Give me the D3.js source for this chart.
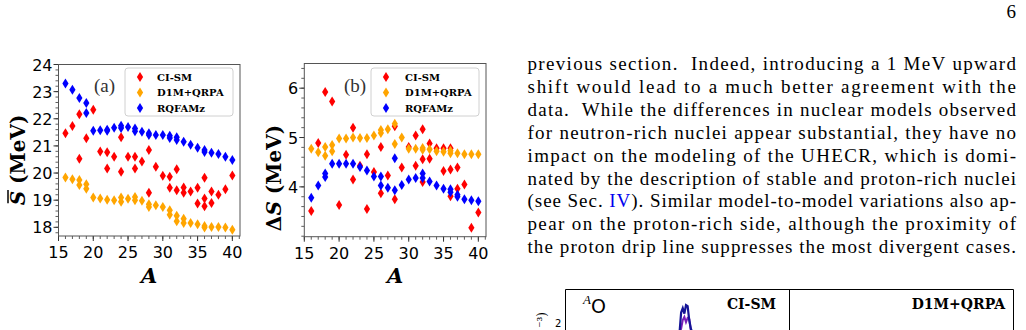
<!DOCTYPE html>
<html>
<head>
<meta charset="utf-8">
<script src="https://cdn.jsdelivr.net/npm/d3@7"></script>
<style>
  body { margin: 0; background: #fff; }
  svg { display: block; }
  .serif { font-family: "Liberation Serif", "Times New Roman", serif; }
</style>
</head>
<body>
<div id="container"></div>
<script>
/*
    Data: [A, value] pairs per model
*/
var modelNames = ["CI-SM", "D1M+QRPA", "RQFAMz"];
var modelColors = ["#ff0000", "#ffa500", "#0000ff"];

var sbarCISM = [[16,21.47],[17,21.73],[18,22.17],[18,20.53],[19,21.28],[20,22.33],[21,20.79],
  [22,20.77],[22,20.17],[23,20.60],[24,21.32],[24,20.05],[25,20.60],[26,20.60],[26,20.17],
  [27,20.43],[28,20.85],[28,19.27],[29,20.23],[30,19.90],[31,19.86],[31,19.46],[32,20.14],
  [32,19.37],[33,19.47],[33,19.27],[34,19.32],[35,19.46],[35,18.88],[36,19.83],[36,19.06],
  [36,18.78],[37,19.32],[37,18.90],[38,19.20],[39,19.40],[40,19.91]];
var sbarD1M = [[16,19.84],[17,19.77],[18,19.74],[18,19.56],[19,19.59],[19,19.42],[20,19.10],
  [21,19.06],[22,19.02],[23,19.00],[24,19.10],[24,18.94],[25,19.05],[26,19.12],[26,19.00],
  [27,18.98],[28,18.85],[28,18.75],[29,18.81],[30,18.75],[31,18.63],[31,18.46],[32,18.43],
  [32,18.22],[33,18.32],[33,18.16],[34,18.16],[35,18.11],[36,18.05],[36,17.99],[37,18.01],
  [38,18.01],[39,17.99],[40,17.91]];
var sbarRQFAM = [[16,23.30],[17,23.07],[18,22.77],[19,22.58],[19,22.21],[20,21.56],[21,21.58],
  [22,21.60],[22,21.56],[23,21.67],[24,21.74],[24,21.66],[25,21.70],[26,21.64],[26,21.54],
  [27,21.52],[28,21.47],[28,21.40],[29,21.40],[30,21.40],[31,21.37],[31,21.29],[32,21.32],
  [32,21.22],[33,21.15],[34,21.04],[35,20.93],[36,20.85],[36,20.78],[37,20.75],[38,20.70],
  [39,20.60],[40,20.48]];

var dsCISM = [[16,3.51],[17,4.89],[18,5.92],[19,5.73],[20,3.63],[21,4.65],[22,5.20],[22,4.15],
  [23,4.43],[24,4.66],[24,3.55],[25,4.30],[26,4.81],[26,3.87],[27,4.23],[28,5.23],[28,3.75],
  [29,4.39],[30,4.81],[31,5.04],[31,4.43],[32,5.17],[32,4.56],[32,4.10],[33,4.88],[33,4.57],
  [34,4.78],[35,4.78],[35,4.32],[36,4.78],[36,4.35],[36,3.81],[37,4.39],[37,3.96],[38,4.05],
  [39,3.17],[40,3.48]];
var dsD1M = [[16,4.77],[17,4.70],[18,4.81],[18,4.63],[19,4.85],[19,4.72],[20,4.98],[21,4.98],
  [22,5.00],[23,4.99],[24,4.99],[25,5.04],[26,5.15],[26,5.09],[27,5.17],[28,5.28],[28,4.87],
  [29,5.00],[30,4.77],[31,4.77],[32,4.79],[32,4.75],[33,4.76],[34,4.72],[35,4.71],[36,4.73],
  [36,4.68],[37,4.68],[38,4.66],[39,4.66],[40,4.66]];
var dsRQFAM = [[16,3.78],[17,4.03],[18,4.20],[18,4.27],[19,4.47],[20,4.47],[21,4.47],[22,4.47],
  [23,4.40],[24,4.33],[25,4.21],[26,4.21],[26,4.03],[27,3.98],[28,4.58],[28,3.93],[29,4.04],
  [30,4.15],[31,4.18],[32,4.27],[32,4.18],[33,4.11],[34,4.03],[35,3.96],[36,3.95],[36,3.89],
  [37,3.84],[37,3.80],[38,3.75],[39,3.73],[40,3.71]];

var xTicks = [15, 20, 25, 30, 35, 40];
var sbarTicks = [18, 19, 20, 21, 22, 23, 24];
var dsTicks = [4, 5, 6];

/*
    Text column on the right of the page
*/
var bodyLines = [
  "previous section.  Indeed, introducing a 1 MeV upward",
  "shift would lead to a much better agreement with the",
  "data.  While the differences in nuclear models observed",
  "for neutron-rich nuclei appear substantial, they have no",
  "impact on the modeling of the UHECR, which is domi-",
  "nated by the description of stable and proton-rich nuclei",
  ["(see Sec. ", "IV", "). Similar model-to-model variations also ap-"],
  "pear on the proton-rich side, although the proximity of",
  "the proton drip line suppresses the most divergent cases."
];

/*
    Top of the next figure, cut by the page edge
*/
var fragX = [0, 1, 2, 3, 4, 5, 6, 7, 8];
var fragBlue = [0, 19, 23, 18, 26, 25, 12, 4, 0];
var fragPurple = [0, 4, 12, 15, 10, 14, 13, 2, 0];

var W = 1026, H = 330;
var svg = d3.select("#container").append("svg")
    .attr("width", W)
    .attr("height", H);

function diamond(w, h) {
    return "M0," + (-h) + "L" + w + ",0L0," + h + "L" + (-w) + ",0Z";
}

function drawPanel(cfg) {
    var x = d3.scaleLinear().domain([15, 41.1]).range(cfg.xRange);
    var y = d3.scaleLinear().domain(cfg.yDomain).range(cfg.yRange);
    var g = svg.append("g");

    /* minor + major ticks, outward, left and bottom only */
    var xMinor = d3.range(15, 42, 1);
    g.selectAll(".xminor").data(xMinor).enter().append("line")
        .attr("x1", d => x(d)).attr("x2", d => x(d))
        .attr("y1", cfg.yRange[0]).attr("y2", cfg.yRange[0] + 3)
        .attr("stroke", "#333").attr("stroke-width", 0.8);
    g.selectAll(".xmajor").data(xTicks).enter().append("line")
        .attr("x1", d => x(d)).attr("x2", d => x(d))
        .attr("y1", cfg.yRange[0]).attr("y2", cfg.yRange[0] + 5)
        .attr("stroke", "#333").attr("stroke-width", 1);
    g.selectAll(".xlab").data(xTicks).enter().append("text")
        .attr("x", d => x(d)).attr("y", cfg.yRange[0] + 22)
        .attr("text-anchor", "middle")
        .style("font-family", "'DejaVu Sans'").style("font-size", "16px")
        .text(d => d);

    var yMinor = d3.range(Math.ceil(cfg.yDomain[0] * 5), Math.floor(cfg.yDomain[1] * 5) + 1)
        .map(d => d / 5);
    g.selectAll(".yminor").data(yMinor).enter().append("line")
        .attr("x1", cfg.xRange[0]).attr("x2", cfg.xRange[0] - 3)
        .attr("y1", d => y(d)).attr("y2", d => y(d))
        .attr("stroke", "#333").attr("stroke-width", 0.8);
    g.selectAll(".ymajor").data(cfg.yTicks).enter().append("line")
        .attr("x1", cfg.xRange[0]).attr("x2", cfg.xRange[0] - 5)
        .attr("y1", d => y(d)).attr("y2", d => y(d))
        .attr("stroke", "#333").attr("stroke-width", 1);
    g.selectAll(".ylab").data(cfg.yTicks).enter().append("text")
        .attr("x", cfg.xRange[0] - 6).attr("y", d => y(d) + 6)
        .attr("text-anchor", "end")
        .style("font-family", "'DejaVu Sans'").style("font-size", "16px")
        .text(d => d);

    /* markers */
    cfg.series.forEach(function (s, i) {
        g.selectAll(".m" + i).data(s).enter().append("path")
            .attr("d", diamond(3.1, 5))
            .attr("transform", d => "translate(" + x(d[0]) + "," + y(d[1]) + ")")
            .attr("fill", modelColors[i]);
    });

    /* frame */
    g.append("rect")
        .attr("x", cfg.xRange[0]).attr("y", cfg.yRange[1])
        .attr("width", cfg.xRange[1] - cfg.xRange[0])
        .attr("height", cfg.yRange[0] - cfg.yRange[1])
        .attr("fill", "none").attr("stroke", "#555").attr("stroke-width", 1);

    /* legend */
    var lg = g.append("g").attr("transform", "translate(" + cfg.legend[0] + "," + cfg.legend[1] + ")");
    lg.append("rect").attr("width", 108).attr("height", 48).attr("rx", 3)
        .attr("fill", "#fff").attr("fill-opacity", 0.8)
        .attr("stroke", "#d0d0d0").attr("stroke-width", 1);
    modelNames.forEach(function (name, i) {
        lg.append("path").attr("d", diamond(3.1, 5))
            .attr("transform", "translate(15," + (9 + i * 15.5) + ")")
            .attr("fill", modelColors[i]);
        lg.append("text").attr("x", cfg.legendText).attr("y", 12.5 + i * 15.5)
            .style("font-family", "'DejaVu Serif'").style("font-size", "10px")
            .style("font-weight", "bold")
            .text(name);
    });

    /* panel tag */
    g.append("text").attr("x", cfg.tag[0]).attr("y", cfg.tag[1])
        .attr("class", "serif").style("font-size", "19px").attr("fill", "#333")
        .text(cfg.tagText);

    /* x label */
    g.append("text").attr("x", (cfg.xRange[0] + cfg.xRange[1]) / 2).attr("y", 283)
        .attr("text-anchor", "middle")
        .style("font-family", "'DejaVu Serif'").style("font-size", "21px")
        .style("font-style", "italic").style("font-weight", "bold")
        .text("A");

    /* y label, rotated */
    var yl = g.append("g").attr("transform", "translate(" + cfg.ylab[0] + "," + cfg.ylab[1] + ") rotate(-90)");
    var t = yl.append("text").attr("x", 0).attr("y", 0).attr("text-anchor", "middle")
        .style("font-family", "'DejaVu Serif'").style("font-size", "20px")
        .style("font-weight", "bold");
    if (cfg.delta) t.append("tspan").text("\u0394");
    t.append("tspan").style("font-style", "italic").text("S");
    t.append("tspan").text(" (MeV)");
    if (cfg.overline) {
        var p0 = t.node().getStartPositionOfChar(0);
        var p1 = t.node().getEndPositionOfChar(0);
        yl.append("line").attr("x1", p0.x + 2).attr("x2", p1.x + 1)
            .attr("y1", -17).attr("y2", -17)
            .attr("stroke", "#000").attr("stroke-width", 1.5);
    }
}

drawPanel({
    xRange: [58.5, 240], yDomain: [17.68, 24], yRange: [236, 64.5], yTicks: sbarTicks,
    series: [sbarCISM, sbarD1M, sbarRQFAM],
    legend: [125, 68], legendText: 32, tag: [94, 92], tagText: "(a)",
    ylab: [25, 160], overline: true, delta: false
});
drawPanel({
    xRange: [304.3, 486], yDomain: [2.99, 6.5], yRange: [236.7, 63.5], yTicks: dsTicks,
    series: [dsCISM, dsD1M, dsRQFAM],
    legend: [371, 68], legendText: 34, tag: [344, 92], tagText: "(b)",
    ylab: [281, 178], overline: false, delta: true
});

/*
    Justified body text
*/
var textLeft = 527.5, textRight = 1016;
bodyLines.forEach(function (line, i) {
    var t = svg.append("text")
        .attr("class", "serif")
        .attr("x", textLeft).attr("y", 70 + i * 22.9)
        .attr("textLength", textRight - textLeft)
        .attr("lengthAdjust", "spacing")
        .style("font-size", "19px")
        .attr("xml:space", "preserve");
    if (Array.isArray(line)) {
        line.forEach(function (part, j) {
            t.append("tspan").attr("fill", j === 1 ? "#0000ee" : "#000").text(part);
        });
    } else {
        t.text(line);
    }
});

svg.append("text").attr("x", 1016).attr("y", 18).attr("text-anchor", "end")
    .attr("class", "serif").style("font-size", "19px").text("6");

/*
    Bottom figure fragment
*/
var fx = d3.scaleLinear().domain([0, 8]).range([679.5, 692.5]);
var fy = d3.scaleLinear().domain([0, 26]).range([333, 305]);
var fg = svg.append("g");
fg.append("path").attr("d", "M565.5,331V289.5H1013.5V331M789.5,289.5V331")
    .attr("fill", "none").attr("stroke", "#000").attr("stroke-width", 1);
var fline = d3.line().x((d, i) => fx(fragX[i])).y(d => fy(d));
fg.append("path").attr("d", fline(fragPurple)).attr("fill", "none")
    .attr("stroke", "#7a1fb8").attr("stroke-width", 2);
fg.append("path").attr("d", fline(fragBlue)).attr("fill", "none")
    .attr("stroke", "#141496").attr("stroke-width", 2.2);

var ao = fg.append("text").attr("x", 583).attr("y", 313);
ao.append("tspan").attr("dy", -9).attr("class", "serif")
    .style("font-size", "13px").style("font-style", "italic").text("A");
ao.append("tspan").attr("dy", 9).style("font-family", "'DejaVu Sans'")
    .style("font-size", "19px").text("O");

fg.append("text").attr("x", 776).attr("y", 309).attr("text-anchor", "end")
    .style("font-family", "'DejaVu Serif'").style("font-size", "14px")
    .style("font-weight", "bold").text("CI-SM");
fg.append("text").attr("x", 1005).attr("y", 309).attr("text-anchor", "end")
    .style("font-family", "'DejaVu Serif'").style("font-size", "14px")
    .style("font-weight", "bold").text("D1M+QRPA");

/* cut-off axis label and tick of the next figure */
fg.append("text").attr("transform", "translate(546,312) rotate(-90)")
    .attr("text-anchor", "end")
    .style("font-family", "'DejaVu Serif'").style("font-size", "12px")
    .text("\u207B\u00B3)");
fg.append("text").attr("x", 555).attr("y", 327)
    .style("font-family", "'DejaVu Sans'").style("font-size", "10px").text("2");
</script>
</body>
</html>
